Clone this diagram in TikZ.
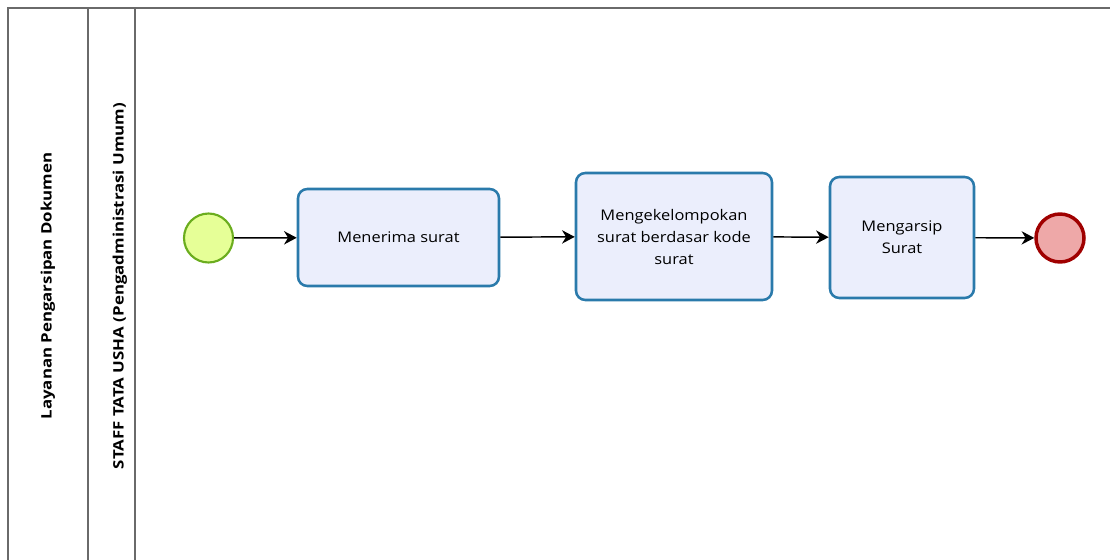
\documentclass[tikz,border=0pt]{standalone}
\usepackage{fontspec}
\setmainfont{Open Sans}[FakeStretch=1.12]
\newfontfamily\lanefont{Open Sans}[FakeStretch=1.17]
\usetikzlibrary{arrows.meta}
\definecolor{lane}{HTML}{6A6A6A}
\definecolor{taskfill}{HTML}{EBEEFC}
\definecolor{taskline}{HTML}{2A7AAB}
\definecolor{startfill}{HTML}{E6FF97}
\definecolor{startline}{HTML}{6BAD1E}
\definecolor{endfill}{HTML}{EEA8A8}
\definecolor{endline}{HTML}{A00000}

\begin{document}
\begin{tikzpicture}[x=.75pt,y=-.75pt,
  task/.style={draw=taskline,fill=taskfill,line width=1.9pt,rounded corners=7pt,
    align=center,inner sep=2pt,font=\fontsize{11}{16.5}\selectfont},
  startev/.style={circle,draw=startline,fill=startfill,line width=1.6pt,
    minimum size=36.75pt,inner sep=0pt},
  endev/.style={circle,draw=endline,fill=endfill,line width=2.6pt,
    minimum size=36pt,inner sep=0pt},
  seqflow/.style={-{Stealth[length=9.5pt,width=10pt,inset=3pt]},line width=1.1pt,draw=black},
  lanelabel/.style={rotate=90,font=\lanefont\bfseries\fontsize{10.8}{12}\selectfont}]
\useasboundingbox (0,0) rectangle (1110,560);

% pool and lane frame, open to the right and bottom
\draw[lane,line width=1.2pt] (8,560)--(8,8)--(1110,8);
\draw[lane,line width=1.2pt] (88,8)--(88,560);
\draw[lane,line width=1.2pt] (135,8)--(135,560);
\node[lanelabel] (pool) at (48,286) {Layanan Pengarsipan Dokumen};
\node[lanelabel] (staff) at (120,286) {STAFF TATA USHA (Pengadministrasi Umum)};

% events and tasks
\node[startev] (start) at (208.5,238) {};
\node[task,minimum width=150.75pt,minimum height=72.75pt] (terima) at (398.5,237.5)
  {Menerima surat};
\node[task,minimum width=147pt,minimum height=95.25pt] (kelompok) at (674,236.5)
  {Mengekelompokan\\surat berdasar kode\\surat};
\node[task,minimum width=108pt,minimum height=90.75pt] (arsip) at (902,237.5)
  {Mengarsip\\Surat};
\node[endev] (finish) at (1060,238) {};

% sequence flows
\draw[seqflow] (start)--(terima);
\draw[seqflow] (terima)--(kelompok);
\draw[seqflow] (kelompok)--(arsip);
\draw[seqflow] (arsip)--(finish);
\end{tikzpicture}
\end{document}
